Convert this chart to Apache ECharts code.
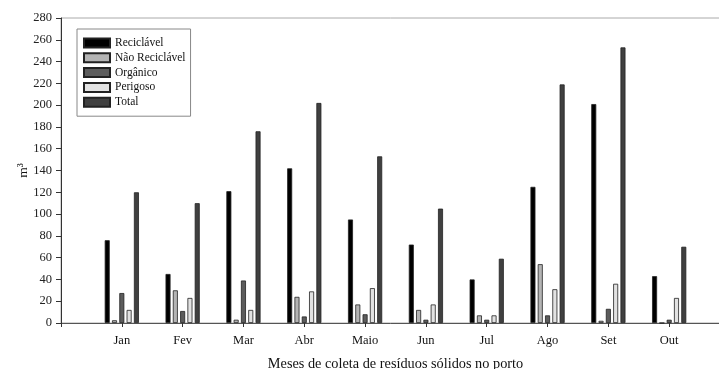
<!DOCTYPE html>
<html>
<head>
<meta charset="utf-8">
<script src="https://cdn.jsdelivr.net/npm/echarts@6/dist/echarts.min.js"></script>
<style>
html,body{margin:0;padding:0;background:#fff;}
#c{width:719px;height:369px;}
</style>
</head>
<body>
<div id="c"></div>
<script>
const months = ['Jan','Fev','Mar','Abr','Maio','Jun','Jul','Ago','Set','Out'];
const reciclavel = [76, 45, 121, 142, 95, 72, 40, 125, 201, 43];
const naoReciclavel = [2.5, 30, 3, 24, 17, 12, 7, 54, 2, 0];
const organico = [27.5, 11, 39, 6, 8, 3, 3, 7, 13, 3];
const perigoso = [12, 23, 12, 29, 32, 17, 7, 31, 36, 23];
const total = [120, 110, 176, 202, 153, 105, 59, 219, 253, 70];
const yTicks = [0, 20, 40, 60, 80, 100, 120, 140, 160, 180, 200, 220, 240, 260, 280];

const pad = a => [null].concat(a, [null]);
const cats = [''].concat(months, ['']);
const font = '"Liberation Serif", "Times New Roman", serif';

function ser(name, data, color) {
  return {
    name: name, type: 'bar', data: pad(data), barWidth: 5, barGap: '46%',
    itemStyle: { color: color, borderColor: '#222', borderWidth: 0.8 }
  };
}

const chart = echarts.init(document.getElementById('c'), null, {renderer: 'canvas'});
chart.setOption({
  animation: false,
  backgroundColor: '#fff',
  textStyle: { fontFamily: font },
  grid: { left: 61, top: 18, right: -11, bottom: 46, show: true, borderColor: '#aaa', borderWidth: 1,
          containLabel: false, outerBoundsMode: 'none' },
  legend: {
    orient: 'vertical', left: 77, top: 29,
    itemWidth: 26, itemHeight: 9, itemGap: 2.8, itemTextGap: 6,
    padding: [8, 5, 8, 6],
    borderColor: '#888', borderWidth: 1,
    textStyle: { fontFamily: font, fontSize: 11.5, color: '#111' },
    icon: 'rect'
  },
  xAxis: {
    type: 'category', data: cats, boundaryGap: false,
    name: 'Meses de coleta de resíduos sólidos no porto',
    nameLocation: 'middle', nameGap: 34,
    nameTextStyle: { fontFamily: font, fontSize: 14.3, color: '#111' },
    axisLine: { lineStyle: { color: '#555', width: 1 } },
    axisTick: { show: true, interval: 0, length: 4, lineStyle: { color: '#333' } },
    axisLabel: { interval: 0, fontFamily: font, fontSize: 12.5, color: '#111', margin: 11 },
    splitLine: { show: false }
  },
  yAxis: {
    type: 'value', min: 0, max: 280, interval: 20,
    name: 'm³', nameLocation: 'middle', nameGap: 31, nameRotate: 90,
    nameMoveOverlap: false,
    nameTextStyle: { fontFamily: font, fontSize: 13.5, color: '#111' },
    axisLine: { show: true, lineStyle: { color: '#333', width: 1 } },
    axisTick: { show: true, length: 5, lineStyle: { color: '#333' } },
    axisLabel: { fontFamily: font, fontSize: 12.5, color: '#222', margin: 9,
      formatter: v => (yTicks.indexOf(v) >= 0 ? String(v) : '') },
    splitLine: { show: false }
  },
  series: [
    ser('Reciclável', reciclavel, '#000000'),
    ser('Não Reciclável', naoReciclavel, '#b4b4b4'),
    ser('Orgânico', organico, '#5c5c5c'),
    ser('Perigoso', perigoso, '#e2e2e2'),
    ser('Total', total, '#404040')
  ]
});
</script>
</body>
</html>
